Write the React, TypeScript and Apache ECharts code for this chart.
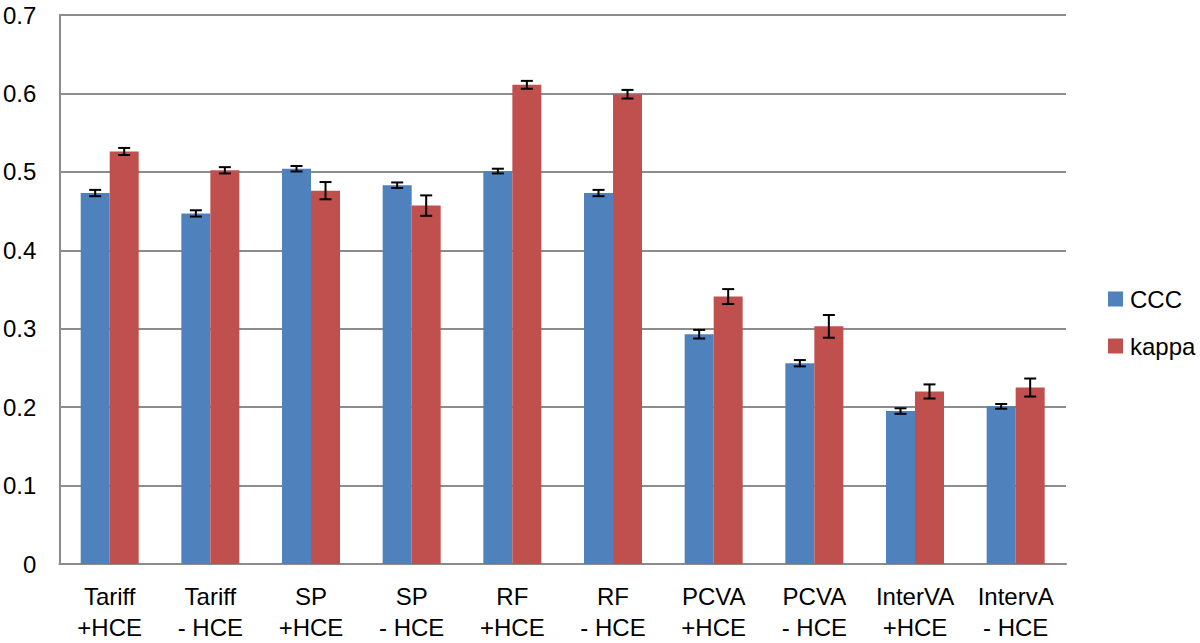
import React, { useEffect, useRef } from "react";
import * as echarts from "echarts";

const categories = [
  "Tariff\n+HCE", "Tariff\n- HCE", "SP\n+HCE", "SP\n- HCE", "RF\n+HCE",
  "RF\n- HCE", "PCVA\n+HCE", "PCVA\n- HCE", "InterVA\n+HCE", "IntervA\n- HCE",
];
const cccValues = [0.473, 0.447, 0.504, 0.483, 0.501, 0.473, 0.293, 0.256, 0.195, 0.201];
const cccErrors = [0.004, 0.004, 0.0035, 0.0035, 0.003, 0.004, 0.0055, 0.004, 0.0035, 0.003];
const kappaValues = [0.526, 0.502, 0.476, 0.457, 0.611, 0.599, 0.341, 0.303, 0.220, 0.225];
const kappaErrors = [0.0045, 0.004, 0.011, 0.013, 0.005, 0.0055, 0.0095, 0.0145, 0.009, 0.0115];
const yTicks = [0, 0.1, 0.2, 0.3, 0.4, 0.5, 0.6, 0.7];

const BLUE = "#4F81BD";
const RED = "#C0504D";
const BAR_W = 29;
const FONT = "Liberation Sans, Arial, Helvetica, sans-serif";

function errorSeries(name: string, values: number[], errors: number[], offset: number) {
  return {
    type: "custom",
    name,
    z: 10,
    data: values.map((v, i) => [i, v - errors[i], v + errors[i]]),
    renderItem: (_params: any, api: any) => {
      const x = api.value(0);
      const lo = api.coord([x, api.value(1)]);
      const hi = api.coord([x, api.value(2)]);
      const cx = lo[0] + offset;
      const cap = 6;
      const style = { stroke: "#000", lineWidth: 2 };
      return {
        type: "group",
        children: [
          { type: "line", shape: { x1: cx, y1: hi[1], x2: cx, y2: lo[1] }, style },
          { type: "line", shape: { x1: cx - cap, y1: hi[1], x2: cx + cap, y2: hi[1] }, style },
          { type: "line", shape: { x1: cx - cap, y1: lo[1], x2: cx + cap, y2: lo[1] }, style },
        ],
      };
    },
  };
}

export default function App() {
  const ref = useRef<HTMLDivElement>(null);
  useEffect(() => {
    if (!ref.current) return;
    const chart = echarts.init(ref.current, undefined, { renderer: "svg" });
    chart.setOption({
      animation: false,
      backgroundColor: "#fff",
      textStyle: { fontFamily: FONT },
      grid: { left: 57, right: 134, top: 15, bottom: 79, containLabel: false },
      legend: {
        data: ["CCC", "kappa"],
        orient: "vertical",
        left: 1108,
        top: 287,
        padding: 0,
        itemWidth: 15,
        itemHeight: 15,
        itemGap: 23,
        icon: "rect",
        textStyle: {
          fontSize: 24,
          lineHeight: 24,
          color: "#000",
          fontFamily: FONT,
          padding: [0, 0, 0, 2],
        },
      },
      xAxis: {
        type: "category",
        data: categories,
        axisLine: { show: true, lineStyle: { color: "#8c8c8c", width: 2 } },
        axisTick: { show: false },
        axisLabel: {
          color: "#000",
          fontSize: 24,
          lineHeight: 31,
          margin: 17,
          interval: 0,
          fontFamily: FONT,
        },
      },
      yAxis: {
        type: "value",
        min: 0,
        max: 0.7,
        interval: 0.1,
        axisLine: { show: true, lineStyle: { color: "#8c8c8c", width: 2 } },
        axisTick: { show: false },
        splitLine: { show: true, lineStyle: { color: "#8c8c8c", width: 2 } },
        axisLabel: {
          color: "#000",
          fontSize: 24,
          margin: 23,
          fontFamily: FONT,
          formatter: (v: number) => {
            const t = yTicks.find((y) => Math.abs(y - v) < 1e-9);
            return t === 0 ? "0" : String(Number((t ?? v).toFixed(1)));
          },
        },
      },
      series: [
        {
          name: "CCC",
          type: "bar",
          data: cccValues,
          barWidth: BAR_W,
          barGap: "0%",
          itemStyle: { color: BLUE },
        },
        {
          name: "kappa",
          type: "bar",
          data: kappaValues,
          barWidth: BAR_W,
          barGap: "0%",
          itemStyle: { color: RED },
        },
        errorSeries("CCC_err", cccValues, cccErrors, -BAR_W / 2),
        errorSeries("kappa_err", kappaValues, kappaErrors, BAR_W / 2),
      ],
    });
    return () => chart.dispose();
  }, []);
  return (
    <div
      ref={ref}
      style={{ position: "absolute", left: 0, top: 0, width: 1200, height: 643 }}
    />
  );
}
